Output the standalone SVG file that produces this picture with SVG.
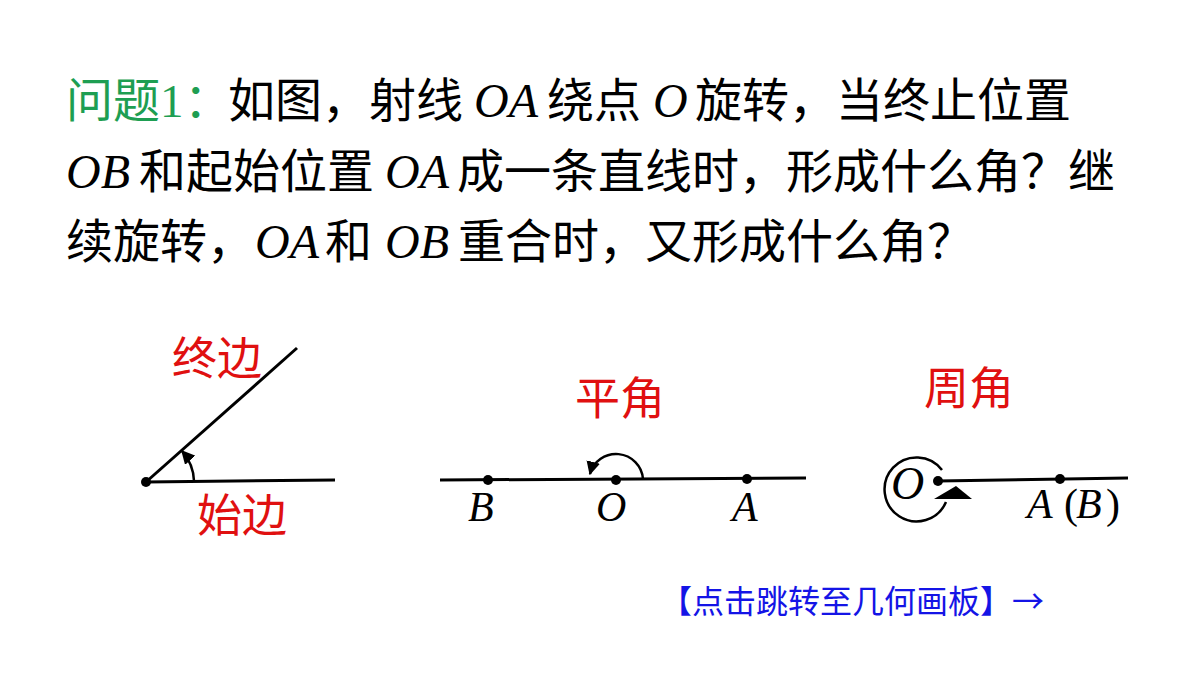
<svg xmlns="http://www.w3.org/2000/svg" width="1200" height="675" viewBox="0 0 1200 675">
<style>
.cn{font-family:"Noto Sans CJK SC","Noto Sans",sans-serif;font-size:47px;fill:#000}
.it{font-family:"Liberation Serif",serif;font-style:italic;font-size:48px;fill:#000}
.gr{fill:#1e9e52}
.red{font-family:"Noto Sans CJK SC","Noto Sans",sans-serif;font-size:45px;fill:#e01010}
.lb{font-family:"Liberation Serif",serif;font-style:italic;font-size:42px;fill:#000}
.rm{font-family:"Liberation Serif",serif;font-size:42px;fill:#000}
.ln{stroke:#000;stroke-width:3;fill:none}
.arc{stroke:#000;stroke-width:2.5;fill:none}
.link{font-family:"Noto Sans CJK SC","Noto Sans",sans-serif;font-size:32px;fill:#1414e6}
</style>
<defs>
<marker id="ah" viewBox="0 0 10 10" refX="9" refY="5" markerWidth="5.5" markerHeight="5.5" orient="auto" markerUnits="strokeWidth">
<path d="M0,0 L10,5 L0,10 z" fill="#000"/>
</marker>
</defs>
<rect width="1200" height="675" fill="#fff"/>

<g id="question">
<text x="66" y="117" class="cn gr">问题</text>
<text x="160" y="117" class="gr" style="font-family:'Liberation Serif',serif;font-size:47px">1</text>
<text x="184" y="117" class="cn gr">：</text>
<text x="228" y="117" class="cn">如图，射线</text>
<text x="474" y="117" class="it">OA</text>
<text x="547" y="117" class="cn">绕点</text>
<text x="653" y="117" class="it">O</text>
<text x="695" y="117" class="cn">旋转，当终止位置</text>

<text x="66" y="188" class="it">OB</text>
<text x="139" y="188" class="cn">和起始位置</text>
<text x="385" y="188" class="it">OA</text>
<text x="457" y="188" class="cn">成一条直线时，形成什么角？继</text>

<text x="66" y="258" class="cn">续旋转，</text>
<text x="255" y="258" class="it">OA</text>
<text x="325" y="258" class="cn">和</text>
<text x="385" y="258" class="it">OB</text>
<text x="458" y="258" class="cn">重合时，</text>
<text x="645" y="258" class="cn">又形成什么角？</text>
</g>

<g id="fig-angle">
<line x1="146" y1="482" x2="335" y2="480" class="ln"/>
<line x1="146" y1="482" x2="297" y2="348" class="ln"/>
<circle cx="146" cy="482" r="5" fill="#000"/>
<path d="M194,481 A48,48 0 0 0 182,451" class="arc" marker-end="url(#ah)"/>
<text x="172" y="375" class="red">终边</text>
<text x="197" y="532" class="red">始边</text>
</g>

<g id="fig-straight">
<line x1="440" y1="480" x2="806" y2="478" class="ln"/>
<circle cx="488" cy="480" r="5" fill="#000"/>
<circle cx="616" cy="480" r="5" fill="#000"/>
<circle cx="747" cy="479" r="5" fill="#000"/>
<path d="M643,479 A27,27 0 0 0 590,474" class="arc" marker-end="url(#ah)"/>
<text x="468" y="521" class="lb">B</text>
<text x="596" y="521" class="lb">O</text>
<text x="732" y="521" class="lb">A</text>
<text x="575" y="415" class="red">平角</text>
</g>

<g id="fig-round">
<line x1="938" y1="481" x2="1128" y2="478" class="ln"/>
<circle cx="938" cy="481" r="5" fill="#000"/>
<circle cx="1060" cy="479" r="5" fill="#000"/>
<path d="M942,470 A32,32 0 1 0 946,502" class="arc"/>
<polygon points="934,499 956,486 972,499" fill="#000"/>
<text x="891" y="499" class="lb" style="font-size:46px">O</text>
<text x="1027" y="518" class="lb">A</text>
<text x="1064" y="518" class="rm">(</text>
<text x="1076" y="518" class="lb">B</text>
<text x="1106" y="518" class="rm">)</text>
<text x="924" y="405" class="red">周角</text>
</g>

<g id="link">
<text x="660" y="613" class="link">【点击跳转至几何画板】→</text>
</g>
</svg>
